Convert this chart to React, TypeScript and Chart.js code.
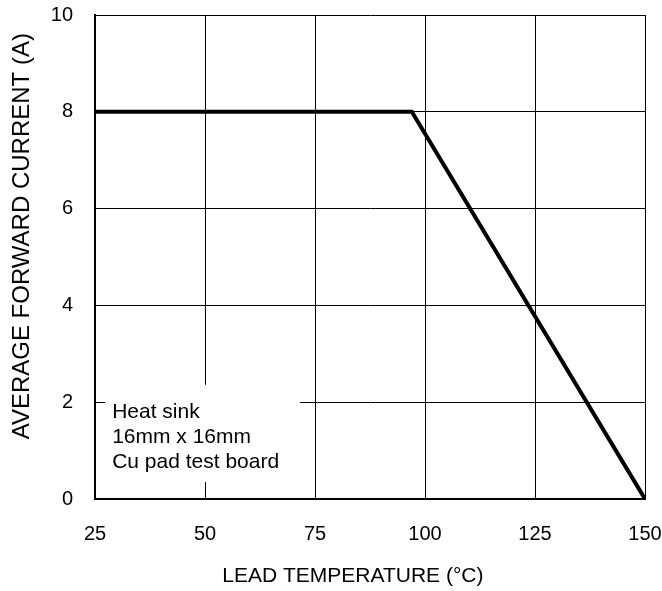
import React, { useEffect, useRef } from "react";
import { Chart, registerables } from "chart.js";

Chart.register(...registerables);

const temps = [25, 97, 150];
const currents = [8, 8, 0];
const noteLines = ["Heat sink", "16mm x 16mm", "Cu pad test board"];
const xTitle = "LEAD TEMPERATURE (°C)";
const yTitle = "AVERAGE FORWARD CURRENT (A)";

const FONT = "'Liberation Sans', Arial, sans-serif";

const notePlugin = {
  id: "note",
  beforeDatasetsDraw(chart: any) {
    const { ctx, scales } = chart;
    const x = scales.x;
    const y = scales.y;
    const left = x.getPixelForValue(27.3);
    const right = x.getPixelForValue(71.6);
    const top = y.getPixelForValue(2.36);
    const bottom = y.getPixelForValue(0.35);
    ctx.save();
    ctx.fillStyle = "#ffffff";
    ctx.fillRect(left, top, right - left, bottom - top);
    ctx.fillStyle = "#000000";
    ctx.font = "21px " + FONT;
    ctx.textBaseline = "middle";
    ctx.textAlign = "left";
    const tx = x.getPixelForValue(28.9);
    noteLines.forEach((t, i) => {
      ctx.fillText(t, tx, y.getPixelForValue(1.8) + i * 25);
    });
    ctx.restore();
  },
  afterDraw(chart: any) {
    const { ctx, scales } = chart;
    const x = scales.x;
    const y = scales.y;
    ctx.save();
    ctx.fillStyle = "#000000";
    ctx.textAlign = "center";
    ctx.textBaseline = "middle";
    ctx.font = "21px " + FONT;
    ctx.fillText(xTitle, x.getPixelForValue(83.6), 576);
    ctx.translate(22, y.getPixelForValue(5.43));
    ctx.rotate(-Math.PI / 2);
    ctx.font = "24px " + FONT;
    ctx.fillText(yTitle, 0, 0);
    ctx.restore();
  },
};

export default function App() {
  const ref = useRef<HTMLCanvasElement>(null);
  useEffect(() => {
    document.body.style.margin = "0";
    const chart = new Chart(ref.current!, {
      type: "line",
      data: {
        datasets: [
          {
            data: temps.map((t, i) => ({ x: t, y: currents[i] })),
            borderColor: "#000000",
            borderWidth: 4,
            pointRadius: 0,
            tension: 0,
          },
        ],
      },
      options: {
        responsive: false,
        animation: false,
        layout: { padding: { top: 15, right: 17, left: 0, bottom: 0 } },
        plugins: { legend: { display: false }, tooltip: { enabled: false } },
        scales: {
          x: {
            type: "linear",
            min: 25,
            max: 150,
            afterFit: (s: any) => {
              s.height = 92;
              s.paddingLeft = 0;
              s.paddingRight = 0;
            },
            ticks: {
              stepSize: 25,
              color: "#000",
              padding: 23,
              maxRotation: 0,
              font: { family: FONT, size: 20 },
            },
            grid: { color: "#000", lineWidth: 1, drawTicks: false },
            border: { color: "#000", width: 2 },
            title: { display: false },
          },
          y: {
            min: 0,
            max: 10,
            afterFit: (s: any) => {
              s.width = 95;
              s.paddingTop = 0;
              s.paddingBottom = 0;
            },
            ticks: {
              stepSize: 2,
              color: "#000",
              padding: 22,
              font: { family: FONT, size: 20 },
            },
            grid: { color: "#000", lineWidth: 1, drawTicks: false },
            border: { color: "#000", width: 2 },
            title: { display: false },
          },
        },
      },
      plugins: [notePlugin],
    } as any);
    return () => chart.destroy();
  }, []);
  return <canvas ref={ref} width={662} height={591} />;
}
